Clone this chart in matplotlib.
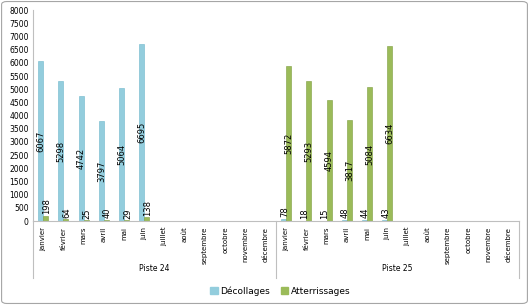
import matplotlib.pyplot as plt
from matplotlib.patches import FancyBboxPatch
import numpy as np

mois = ['janvier', 'février', 'mars', 'avril', 'mai', 'juin', 'juillet', 'août',
        'septembre', 'octobre', 'novembre', 'décembre']
pistes = ['Piste 24', 'Piste 25']

# valeurs par piste (janvier -> juin, le reste vide)
decollages_24 = [6067, 5298, 4742, 3797, 5064, 6695]
atterrissages_24 = [198, 64, 25, 40, 29, 138]
decollages_25 = [78, 18, 15, 48, 44, 43]
atterrissages_25 = [5872, 5293, 4594, 3817, 5084, 6634]

bleu = '#93CDDD'
vert = '#9BBB59'

fig = plt.figure(figsize=(5.29, 3.05), dpi=100)
fig.patches.append(FancyBboxPatch((0.003, 0.005), 0.994, 0.99, boxstyle='round,pad=0,rounding_size=0.01',
                                  transform=fig.transFigure, fill=False, edgecolor='#A6A6A6', lw=0.8))
ax = fig.add_axes([0.0624, 0.275, 0.9186, 0.692])

n = len(mois)
w = 0.25
for g, (dec, att) in enumerate([(decollages_24, atterrissages_24), (decollages_25, atterrissages_25)]):
    x = np.arange(len(dec)) + g * n
    b1 = ax.bar(x - w / 2, dec, w, color=bleu, edgecolor='#6FB7CB', lw=0.4)
    b2 = ax.bar(x + w / 2, att, w, color=vert, edgecolor='#7E9E3E', lw=0.4)
    for bars in (b1, b2):
        for r in bars:
            v = r.get_height()
            cx = r.get_x() + r.get_width() / 2
            if v > 1000:
                ax.text(cx, v / 2, str(int(v)), rotation=90, ha='center', va='center', fontsize=6)
            else:
                ax.text(cx + 0.05, v + 60, str(int(v)), rotation=90, ha='center', va='bottom', fontsize=6)

ax.set_xlim(-0.5, 2 * n - 0.5)
ax.set_ylim(0, 8000)
ax.set_yticks(np.arange(0, 8001, 500))
ax.tick_params(axis='y', labelsize=5.5, length=0, pad=3)
ax.set_xticks(np.arange(2 * n))
ax.set_xticklabels(mois * 2, rotation=90, fontsize=5, va='top')
ax.tick_params(axis='x', length=0, pad=4)

for s in ['top', 'right']:
    ax.spines[s].set_visible(False)
ax.spines['left'].set_color('#BFBFBF')
ax.spines['bottom'].set_color('#BFBFBF')

# séparateurs des groupes + noms des pistes
for xs in [-0.5, n - 0.5, 2 * n - 0.5]:
    ax.plot([xs, xs], [0, -0.27], transform=ax.get_xaxis_transform(), color='#BFBFBF', lw=0.8, clip_on=False)
for g, p in enumerate(pistes):
    ax.text(g * n + (n - 1) / 2, -0.225, p, transform=ax.get_xaxis_transform(), ha='center', va='center', fontsize=5.5)

handles = [plt.Rectangle((0, 0), 1, 1, color=bleu), plt.Rectangle((0, 0), 1, 1, color=vert)]
fig.legend(handles, ['Décollages', 'Atterrissages'], loc='center', bbox_to_anchor=(0.53, 0.045), ncol=2,
           frameon=False, fontsize=6.5, handlelength=0.8, handleheight=0.8, handletextpad=0.3, columnspacing=1.2)

fig.savefig('out.png', dpi=100)
